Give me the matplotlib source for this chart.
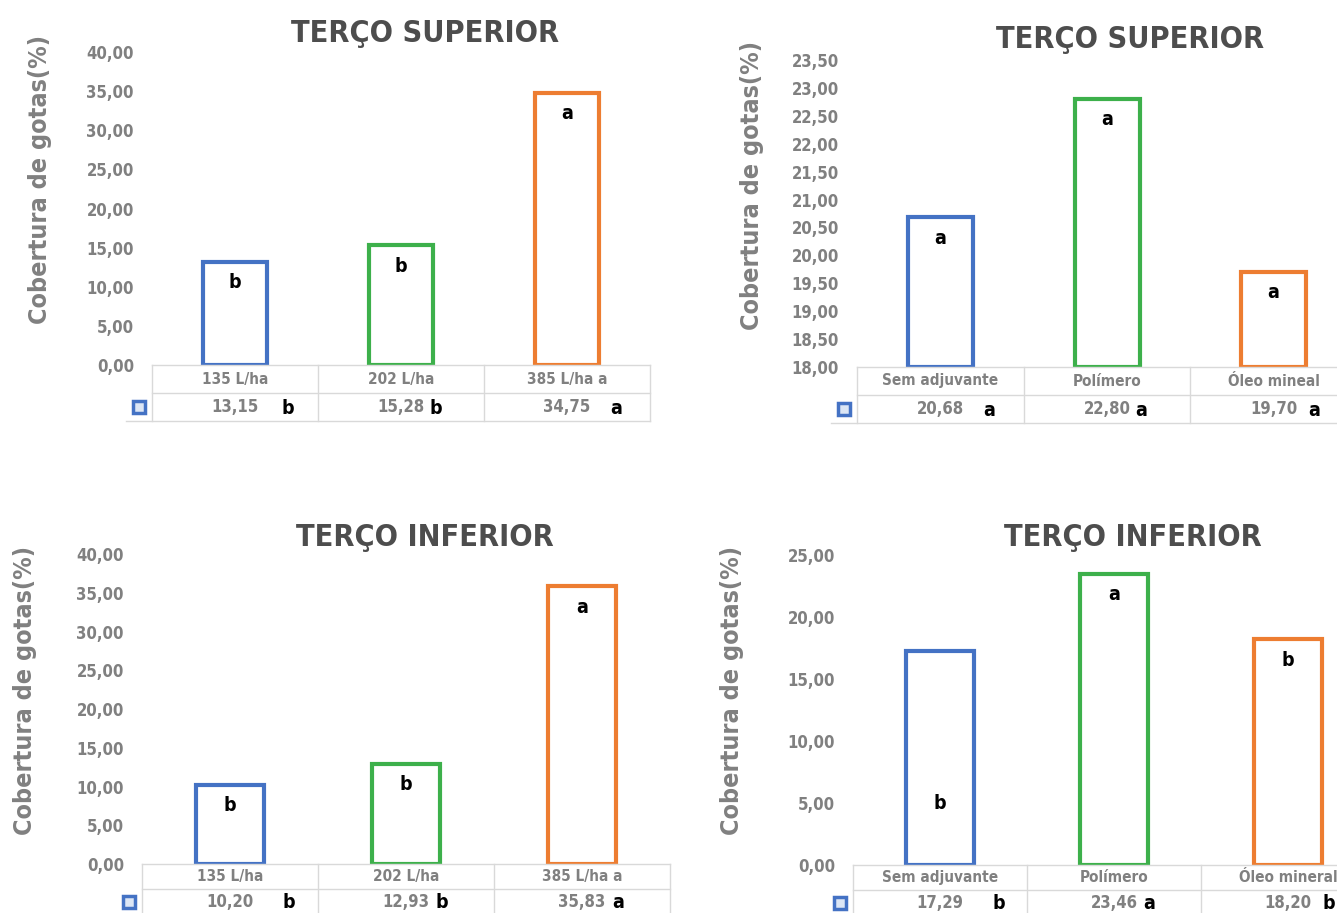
import matplotlib.pyplot as plt

# Data: coverage (%) per treatment, top and bottom third of the plant
vol_cats = ["135 L/ha", "202 L/ha", "385 L/ha a"]
adj_cats_sup = ["Sem adjuvante", "Polímero", "Óleo mineal"]
adj_cats_inf = ["Sem adjuvante", "Polímero", "Óleo mineral"]

vol_sup = [13.15, 15.28, 34.75]
vol_sup_letters = ["b", "b", "a"]
adj_sup = [20.68, 22.80, 19.70]
adj_sup_letters = ["a", "a", "a"]
vol_inf = [10.20, 12.93, 35.83]
vol_inf_letters = ["b", "b", "a"]
adj_inf = [17.29, 23.46, 18.20]
adj_inf_letters = ["b", "a", "b"]

colors = ["#4472C4", "#3DB04B", "#ED7D31"]
GRAY = "#808080"
GRID = "#D9D9D9"

plt.rcParams['font.family'] = ["DejaVu Sans"]
plt.rcParams['font.stretch'] = 'condensed'
plt.rcParams['font.weight'] = 'bold'

W, H = 1337, 913
fig = plt.figure(figsize=(W / 100, H / 100), dpi=100, facecolor='white')


def fmt(v):
    return f"{v:.2f}".replace(".", ",")


def panel(rect, cats, vals, letters, ylim, step, title, title_xy, ylab_xy,
          letter_dx, row_px=28, low_letter=None):
    l, b, r, t = rect
    ax = fig.add_axes([l / W, 1 - b / H, (r - l) / W, (b - t) / H])
    ymin, ymax = ylim
    x = range(len(cats))
    ax.bar(x, [v - ymin for v in vals], bottom=ymin, width=0.39,
           facecolor='white', edgecolor=colors, linewidth=3)
    ax.set_xlim(-0.5, len(cats) - 0.5)
    ax.set_ylim(ymin, ymax)
    ticks = []
    v = ymin
    while v <= ymax + 1e-9:
        ticks.append(v)
        v += step
    ax.set_yticks(ticks)
    ax.set_yticklabels([fmt(t) for t in ticks], color=GRAY, fontsize=12)
    ax.tick_params(axis='y', length=0, pad=13)
    ax.set_xticks([])
    for s in ax.spines.values():
        s.set_visible(False)

    # letters inside the bars
    for i, (v, let) in enumerate(zip(vals, letters)):
        yy = v
        dy = -15
        if low_letter is not None and i == low_letter:
            yy = ymin + (ymax - ymin) * 0.2
            dy = 0
        ax.annotate(let, (i, yy), xytext=(0, dy), textcoords='offset points',
                    ha='center', va='center', fontsize=14, color='black',
                    fontweight='bold')

    # data table below the axis
    hpx = b - t
    row = row_px / hpx
    tr = ax.get_xaxis_transform()
    n = len(cats)
    key_w = 26 / ((r - l) / n)
    line = dict(color=GRID, lw=1, transform=tr, clip_on=False)
    ax.plot([-0.5, n - 0.5], [0, 0], **line)
    ax.plot([-0.5, n - 0.5], [-row, -row], **line)
    ax.plot([-0.5 - key_w, n - 0.5], [-2 * row, -2 * row], **line)
    for k in range(n + 1):
        ax.plot([k - 0.5, k - 0.5], [0, -2 * row], **line)
    ax.plot([-0.5 - key_w * 0.5], [-1.5 * row], marker='s', ms=8,
            mfc='#DCE6F5', mec=colors[0], mew=2.5, transform=tr,
            clip_on=False)
    for i, (c, v, let) in enumerate(zip(cats, vals, letters)):
        ax.text(i, -0.5 * row, c, transform=tr, ha='center', va='center',
                color=GRAY, fontsize=11)
        ax.text(i, -1.5 * row, fmt(v), transform=tr, ha='center',
                va='center', color=GRAY, fontsize=12)
        ax.text(i + letter_dx[i], -1.55 * row, let, transform=tr,
                ha='left', va='center', color='black', fontsize=14)

    fig.text(title_xy[0] / W, 1 - title_xy[1] / H, title, ha='center',
             va='center', fontsize=22, color='#4D4D4D', fontweight='bold')
    fig.text(ylab_xy[0] / W, 1 - ylab_xy[1] / H, "Cobertura de gotas(%)",
             rotation=90, ha='center', va='center', fontsize=18,
             color=GRAY, fontweight='bold')
    return ax


panel((152, 365, 650, 52), vol_cats, vol_sup, vol_sup_letters, (0, 40), 5,
      "TERÇO SUPERIOR", (425, 33), (40, 180), [0.28, 0.17, 0.26])
panel((857, 367, 1357, 60), adj_cats_sup, adj_sup, adj_sup_letters,
      (18, 23.5), 0.5, "TERÇO SUPERIOR", (1130, 40), (752, 185),
      [0.26, 0.17, 0.21])
panel((142, 864, 670, 554), vol_cats, vol_inf, vol_inf_letters, (0, 40), 5,
      "TERÇO INFERIOR", (425, 537), (25, 690), [0.3, 0.17, 0.17],
      row_px=25)
panel((853, 865, 1375, 555), adj_cats_inf, adj_inf, adj_inf_letters,
      (0, 25), 5, "TERÇO INFERIOR", (1133, 537), (732, 690),
      [0.3, 0.17, 0.2], row_px=25, low_letter=0)

fig.savefig("out.png", dpi=100, facecolor='white')
